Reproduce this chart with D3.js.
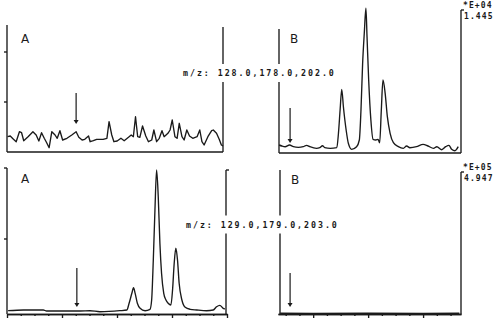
<!DOCTYPE html>
<html><head><meta charset="utf-8">
<script src="https://cdn.jsdelivr.net/npm/d3@7"></script>
<style>body{margin:0;background:#fff}svg{display:block}</style>
</head><body><svg id="c" width="500" height="322"></svg>
<script>
// ---------- data ----------
const panelLetters = ["A", "B", "A", "B"];
const mzLabels = ["m/z: 128.0,178.0,202.0", "m/z: 129.0,179.0,203.0"];
const scaleExponents = ["*E+04", "*E+05"];
const scaleValues = ["1.445", "4.947"];

// Top-left (A, m/z 128/178/202): retention time (min) and abundance
const tlTime = [3.01,3.06,3.12,3.17,3.23,3.27,3.31,3.39,3.48,3.54,3.59,3.64,3.69,3.73,3.78,3.83,3.89,3.93,3.98,4.03,
  4.11,4.20,4.28,4.33,4.39,4.44,4.51,4.54,4.60,4.66,4.78,4.85,4.89,4.94,4.98,5.04,5.11,5.17,5.25,5.30,
  5.34,5.38,5.42,5.46,5.51,5.57,5.62,5.68,5.72,5.77,5.82,5.87,5.91,5.98,6.02,6.06,6.11,6.15,6.19,6.24,
  6.28,6.33,6.38,6.44,6.52,6.57,6.61,6.65,6.72,6.79,6.82,6.88,6.93,6.97,7.00];
const tlAbund = [15.3,16,12.7,10.3,20.3,19.3,11.3,15.3,20.3,17,11,19.3,13.7,9.7,4.3,20.3,17,13.7,21.3,12,
  13.7,17,20.3,14.7,12,12.7,16,10.3,11.3,12.7,12.7,13.7,30.3,17,10.3,11,13.7,11.3,14.7,17,
  15.3,35.3,15.3,14.7,26,16,10.3,12,22,10.3,13.7,21.3,15.3,18.7,22,32,15.3,13.7,28.7,15.3,
  12,22,16,13.7,15.3,22,10.3,7,15.3,21.3,22,18.7,12.7,7,6];

// Top-right (B, m/z 128/178/202)
const trTime = [5.38,5.43,5.49,5.57,5.64,5.73,5.82,5.88,5.94,6.06,6.12,6.17,6.21,6.31,6.43,6.46,6.49,6.52,6.55,6.60,
  6.64,6.70,6.79,6.84,6.87,6.90,6.93,6.96,6.98,7.01,7.05,7.09,7.14,7.18,7.21,7.24,7.27,7.31,7.35,7.40,
  7.46,7.55,7.64,7.70,7.76,7.88,8.00,8.09,8.19,8.25,8.34,8.41,8.47,8.52,8.58,8.64];
const trAbund = [8,7,6.3,8,6.3,5.7,6.3,7.7,6.3,4.7,5.3,7.3,5.3,4.7,5.3,19.7,43,63.7,46.3,23,
  9.7,3.7,6.3,13,43,89.7,119.7,144.7,116.3,73,33,13.7,13,13.7,10.3,43,73,59.7,36.3,19.7,
  10.3,6.3,4.7,7,5.3,6.3,8.7,7,4.7,6.3,3.3,6.3,7.7,3.7,2.3,6.3];

// Bottom-left (A, m/z 129/179/203)
const blTime = [3.02,3.30,3.66,3.72,4.09,4.33,4.51,4.69,5.05,5.18,5.22,5.27,5.30,5.33,5.37,5.42,5.51,5.60,5.63,5.66,
  5.69,5.72,5.75,5.78,5.81,5.85,5.89,5.93,5.98,6.01,6.04,6.07,6.10,6.13,6.18,6.24,6.33,6.45,6.63,6.75,
  6.81,6.87,6.93,6.96];
const blAbund = [3.3,4,4,3,3,3,3.3,2.3,3.3,4,10.7,20.7,26.3,20.7,10.7,5.7,3.3,4.7,14,54,
  104,144,117.3,70.7,40.7,20.7,14,10.7,9,24,50.7,65.7,54,30.7,14,6.7,4.7,4,3.3,4,
  7.3,8.7,5.7,5];

// Bottom-right (B, m/z 129/179/203): flat baseline
const brTime = [5.40,6.00,7.00,8.00,8.66];
const brAbund = [0.8,0.6,0.8,0.6,0.8];

// Arrow markers: [time, from abundance, to abundance]
const arrowMarks = [[4.28,59,28],[5.58,45,10],[4.27,46,7],[5.58,41,7]];

// ---------- layout ----------
const svg = d3.select("#c");
const ink = "#1a1a1a";
const sw = 1.35;
const mono = "'DejaVu Sans Mono', 'Liberation Mono', monospace";

const panels = [
  {t: tlTime, a: tlAbund, xd:[3,7], xr:[7,223], yd:[0,127], yr:[152,25], curve:d3.curveLinear,
   leftTop:25, leftTicks:[50,100], right:{x:223, top:27, hook:false}, bottomTicks:false,
   letter:[21,43], arrow:0},
  {t: trTime, a: trAbund, xd:[5.36,8.69], xr:[278,461], yd:[0,141], yr:[153,12], curve:d3.curveMonotoneX,
   leftTop:29, leftTicks:[], right:{x:461, top:10, hook:true}, bottomTicks:false,
   letter:[290,43], arrow:1, scale:0, leftX:279},
  {t: blTime, a: blAbund, xd:[3,7], xr:[7,227], yd:[0,146], yr:[314,168], curve:d3.curveMonotoneX,
   leftTop:168, leftTicks:[75,146], right:{x:226, top:170, hook:true}, bottomTicks:true,
   letter:[21,183], arrow:2},
  {t: brTime, a: brAbund, xd:[5.36,8.69], xr:[278,461], yd:[0,144], yr:[314,170], curve:d3.curveLinear,
   leftTop:170, leftTicks:[], right:{x:461, top:172, hook:true}, bottomTicks:true,
   letter:[291,184], arrow:3, scale:1, leftX:280}
];

panels.forEach((p, i) => {
  const g = svg.append("g");
  const x = d3.scaleLinear().domain(p.xd).range(p.xr);
  const y = d3.scaleLinear().domain(p.yd).range(p.yr);
  const x0 = p.leftX !== undefined ? p.leftX : p.xr[0];
  const yb = p.yr[0];

  g.append("line").attr("x1", x0).attr("x2", x0).attr("y1", p.leftTop).attr("y2", yb)
    .attr("stroke", ink).attr("stroke-width", sw);
  p.leftTicks.forEach(v => {
    g.append("line").attr("x1", x0 - 3).attr("x2", x0).attr("y1", y(v)).attr("y2", y(v))
      .attr("stroke", ink).attr("stroke-width", sw);
  });
  if (p.bottomTicks) {
    const major = d3.range(Math.ceil(p.xd[0]), Math.floor(p.xd[1]) + 1);
    const minor = d3.range(Math.ceil(p.xd[0] * 4), Math.floor(p.xd[1] * 4) + 1).map(v => v / 4)
      .filter(v => Math.abs(v - Math.round(v)) > 0.01);
    const ax1 = g.append("g").attr("transform", `translate(0,${yb})`)
      .call(d3.axisBottom(x).tickValues(minor).tickSize(2).tickSizeOuter(0).tickFormat(""));
    const ax2 = g.append("g").attr("transform", `translate(0,${yb})`)
      .call(d3.axisBottom(x).tickValues(major).tickSize(4).tickSizeOuter(0).tickFormat(""));
    [ax1, ax2].forEach(a => { a.selectAll("line,path").attr("stroke", ink).attr("stroke-width", sw); });
  } else {
    g.append("line").attr("x1", x0).attr("x2", p.xr[1]).attr("y1", yb).attr("y2", yb)
      .attr("stroke", ink).attr("stroke-width", sw);
  }
  g.append("line").attr("x1", p.right.x).attr("x2", p.right.x).attr("y1", p.right.top).attr("y2", yb)
    .attr("stroke", ink).attr("stroke-width", sw);
  if (p.right.hook) {
    g.append("line").attr("x1", p.right.x).attr("x2", p.right.x + 3).attr("y1", p.right.top).attr("y2", p.right.top)
      .attr("stroke", ink).attr("stroke-width", sw);
  }

  const line = d3.line().x(d => x(d[0])).y(d => y(d[1])).curve(p.curve);
  g.append("path").datum(d3.zip(p.t, p.a)).attr("d", line)
    .attr("fill", "none").attr("stroke", ink).attr("stroke-width", sw).attr("stroke-linejoin", "round");

  const am = arrowMarks[p.arrow];
  const ax = x(am[0]), ay1 = y(am[1]), ay2 = y(am[2]);
  g.append("line").attr("x1", ax).attr("x2", ax).attr("y1", ay1).attr("y2", ay2 - 3)
    .attr("stroke", ink).attr("stroke-width", 1.2);
  g.append("path").attr("d", `M${ax-2.5},${ay2-4}L${ax+2.5},${ay2-4}L${ax},${ay2}Z`).attr("fill", ink);

  g.append("text").attr("x", p.letter[0]).attr("y", p.letter[1]).text(panelLetters[i])
    .attr("font-family", "'DejaVu Sans', sans-serif").attr("font-size", 12).attr("fill", ink);

  if (p.scale !== undefined) {
    g.append("text").attr("x", p.right.x + 2).attr("y", p.right.top - 2).text(scaleExponents[p.scale])
      .attr("font-family", mono).attr("font-weight", "bold").attr("font-size", 8)
      .attr("letter-spacing", 1.1).attr("fill", ink);
    g.append("text").attr("x", p.right.x + 3).attr("y", p.right.top + 9).text(scaleValues[p.scale])
      .attr("font-family", mono).attr("font-weight", "bold").attr("font-size", 8)
      .attr("letter-spacing", 1.1).attr("fill", ink);
  }
});

// m/z labels with white gaps in the lines behind them
const mzPos = [[183, 73], [186, 224.5]];
mzLabels.forEach((s, i) => {
  const lg = svg.append("g");
  const r = lg.append("rect").attr("fill", "#fff");
  const t = lg.append("text").attr("x", mzPos[i][0]).attr("y", mzPos[i][1] + 3).text(s)
    .attr("font-family", mono).attr("font-weight", "bold").attr("font-size", 8.3)
    .attr("letter-spacing", 1.95).attr("fill", ink);
  const w = t.node().getComputedTextLength();
  r.attr("x", mzPos[i][0] - 2).attr("y", mzPos[i][1] - 9).attr("width", w + 2).attr("height", 18);
});
</script></body></html>
